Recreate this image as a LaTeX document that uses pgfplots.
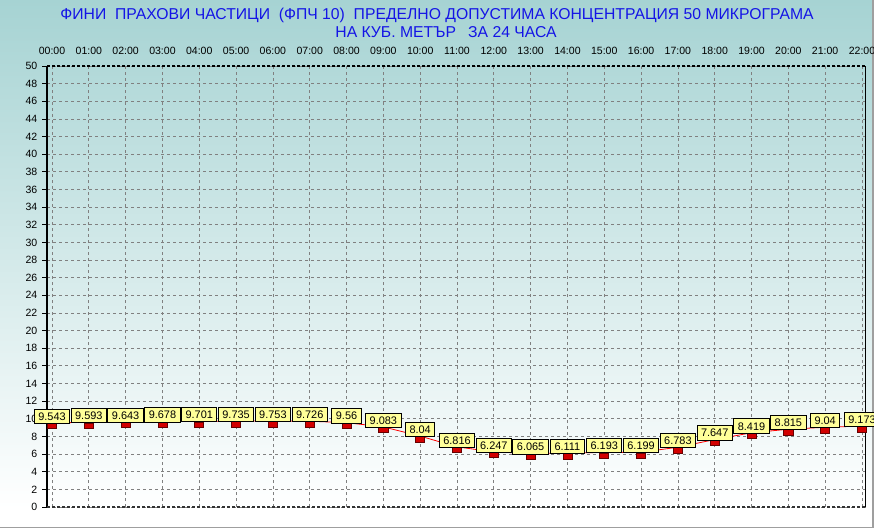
\documentclass[border=0pt]{standalone}
\usepackage{pgfplots}
\pgfplotsset{compat=1.18}
\usepackage{fontspec}
\setmainfont{Liberation Sans}
\definecolor{bgtop}{RGB}{166,211,211}
\definecolor{titleblue}{RGB}{20,20,230}
\definecolor{lblyellow}{RGB}{255,255,153}
\definecolor{gridgray}{RGB}{128,128,128}
\definecolor{markred}{RGB}{210,0,0}
\pgfdeclareverticalshading{bgshade}{100bp}{color(0bp)=(white); color(27bp)=(white); color(75bp)=(bgtop); color(100bp)=(bgtop)}
\pgfdeclareplotmark{redrect}{%
  \pgfpathrectangle{\pgfpoint{-3.4pt}{-4.4pt}}{\pgfpoint{6.8pt}{4pt}}%
  \pgfusepathqfillstroke}
\pgfplotstableread{
x y
0 9.543
1 9.593
2 9.643
3 9.678
4 9.701
5 9.735
6 9.753
7 9.726
8 9.56
9 9.083
10 8.04
11 6.816
12 6.247
13 6.065
14 6.111
15 6.193
16 6.199
17 6.783
18 7.647
19 8.419
20 8.815
21 9.04
22 9.173
}\pmdata
\begin{document}
\begin{tikzpicture}[x=0.75pt,y=0.75pt]
\shade[shading=bgshade] (0,0) rectangle (874,529);
\useasboundingbox (0,0) rectangle (874,529);
\draw[gray!75, line width=1.2pt] (0,1.5) -- (873,1.5) -- (873,529);
\node[text=titleblue, font=\fontsize{11.8pt}{13pt}\selectfont] at (437,514) {ФИНИ \ ПРАХОВИ ЧАСТИЦИ \ (ФПЧ 10) \ ПРЕДЕЛНО ДОПУСТИМА КОНЦЕНТРАЦИЯ 50 МИКРОГРАМА};
\node[text=titleblue, font=\fontsize{11.8pt}{13pt}\selectfont] at (446,497) {НА КУБ. МЕТЪР\hspace{9pt}ЗА 24 ЧАСА};
\begin{axis}[
  at={(35.25pt,16.5pt)}, anchor=south west,
  scale only axis, width=614pt, height=330.75pt,
  xmin=-0.136, xmax=22.1, ymin=0, ymax=50,
  xtick={0,...,22},
  xticklabels={00:00,01:00,02:00,03:00,04:00,05:00,06:00,07:00,08:00,09:00,10:00,11:00,12:00,13:00,14:00,15:00,16:00,17:00,18:00,19:00,20:00,21:00,22:00},
  xticklabel pos=upper,
  ytick={0,2,...,50},
  ytick pos=left,
  tick align=outside,
  major tick length=3.75pt,
  xtick style={draw=none},
  ytick style={black, line width=0.6pt},
  xticklabel style={yshift=1pt},
  tick label style={font=\fontsize{7.9pt}{9pt}\selectfont},
  /pgf/number format/assume math mode=true,
  grid=major,
  grid style={gridgray, line width=0.6pt, dash pattern=on 2.25pt off 2.25pt},
  axis line style={draw=none},
  clip=false,
]
\addplot[red, line width=0.6pt,
  mark=redrect,
  mark options={fill=markred, draw=red!40!black, line width=0.5pt},
  nodes near coords={\pgfmathprintnumber[fixed,precision=3]{\pgfplotspointmeta}},
  every node near coord/.append style={font=\fontsize{8.2pt}{9pt}\selectfont, text=black, fill=lblyellow, draw=black, line width=0.75pt, inner xsep=3pt, inner ysep=2.4pt, text height=5.9pt, text depth=0pt, anchor=south, yshift=-0.75pt},
] table[x=x,y=y] {\pmdata};
\draw[black, line width=1.6pt] (rel axis cs:0,0) -- (rel axis cs:0,1);
\draw[black, line width=1pt, dash pattern=on 2.25pt off 1.5pt] (rel axis cs:0,1) -- (rel axis cs:1,1);
\draw[black!80, line width=0.9pt, dash pattern=on 2.25pt off 1.5pt] (rel axis cs:0,0) -- (rel axis cs:1,0);
\draw[black, line width=0.9pt] (rel axis cs:1,0) -- (rel axis cs:1,1);
\end{axis}
\end{tikzpicture}
\end{document}
